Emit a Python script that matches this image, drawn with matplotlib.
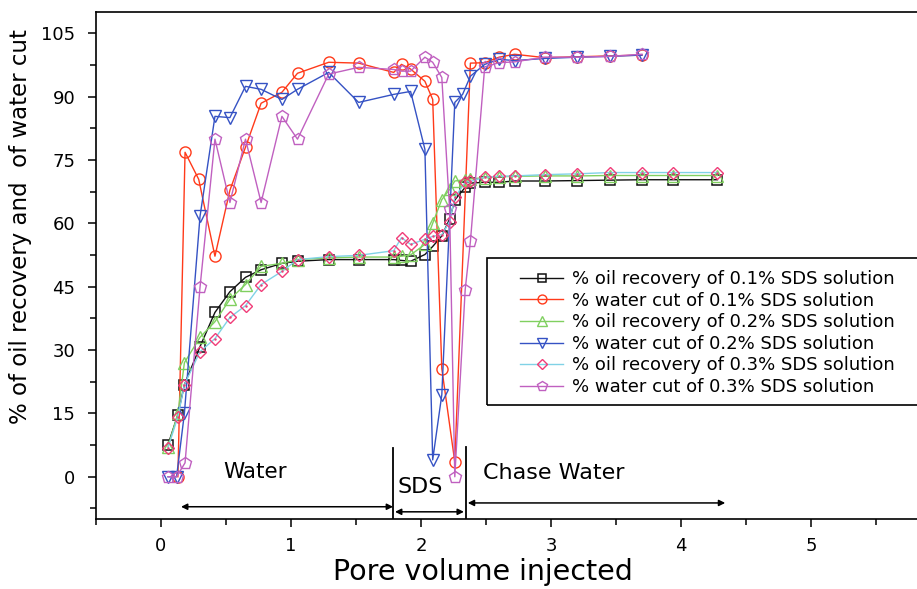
import matplotlib
matplotlib.use("Agg")
import matplotlib.pyplot as plt
from matplotlib.patches import Rectangle
from matplotlib.ticker import MultipleLocator

# ---------------- data ----------------
x_oil = [0.054, 0.13, 0.18, 0.30, 0.415, 0.53, 0.65, 0.77, 0.93, 1.05, 1.29, 1.52,
         1.79, 1.85, 1.92, 2.03, 2.09, 2.16, 2.22, 2.26, 2.34, 2.38, 2.49, 2.60,
         2.72, 2.95, 3.20, 3.45, 3.70, 3.94, 4.28]
oil_01 = [7.6, 14.7, 21.8, 30.8, 38.9, 43.8, 47.2, 49.0, 50.5, 51.0, 51.4, 51.4,
          51.4, 51.2, 51.0, 52.6, 54.5, 57.0, 61.0, 65.5, 68.5, 69.5, 69.7, 69.7,
          70.0, 70.0, 70.1, 70.2, 70.3, 70.3, 70.3]
oil_02 = [7.1, 15.0, 27.0, 33.0, 36.7, 42.0, 45.5, 49.8, 50.5, 51.4, 51.8, 52.0,
          52.0, 52.2, 52.5, 55.0, 60.0, 65.6, 68.0, 70.0, 70.3, 70.5, 70.8, 71.0,
          71.1, 71.2, 71.2, 71.3, 71.3, 71.3, 71.3]
oil_03 = [6.9, 14.2, 21.8, 29.6, 32.7, 37.7, 40.5, 45.5, 48.6, 51.4, 52.1, 52.4,
          53.5, 56.6, 55.0, 56.2, 56.9, 57.3, 60.4, 66.1, 69.7, 69.9, 70.9, 71.1,
          71.2, 71.5, 71.7, 72.0, 72.0, 72.0, 72.0]

x_wc01 = [0.13, 0.185, 0.29, 0.415, 0.53, 0.65, 0.77, 0.93, 1.05, 1.29, 1.52, 1.79,
          1.85, 1.92, 2.03, 2.09, 2.16, 2.26, 2.38, 2.49, 2.60, 2.72, 2.95, 3.20,
          3.45, 3.70]
wc_01 = [0.0, 76.8, 70.4, 52.2, 67.8, 78.0, 88.4, 91.0, 95.5, 98.1, 97.9, 95.7,
         97.6, 96.5, 93.6, 89.3, 25.6, 3.5, 97.9, 98.0, 99.3, 100.0, 99.2, 99.4,
         99.6, 99.8]

x_wc02 = [0.054, 0.12, 0.18, 0.30, 0.415, 0.53, 0.65, 0.77, 0.93, 1.05, 1.29, 1.52,
          1.79, 1.92, 2.03, 2.09, 2.16, 2.26, 2.32, 2.38, 2.49, 2.60, 2.72, 2.95,
          3.20, 3.45, 3.70]
wc_02 = [0.0, 0.0, 15.0, 61.6, 85.3, 85.0, 92.4, 91.7, 89.3, 91.7, 95.7, 88.6,
         90.5, 91.2, 77.5, 4.0, 19.4, 88.6, 90.5, 94.8, 97.6, 98.8, 98.5, 99.0,
         99.3, 99.5, 99.8]

x_wc03 = [0.054, 0.12, 0.185, 0.30, 0.415, 0.53, 0.65, 0.77, 0.93, 1.05, 1.29, 1.52,
          1.79, 1.85, 1.92, 2.03, 2.09, 2.16, 2.22, 2.26, 2.34, 2.38, 2.49, 2.60,
          2.72, 2.95, 3.20, 3.45, 3.70]
wc_03 = [0.0, 0.0, 3.3, 44.8, 79.9, 64.9, 79.9, 64.9, 85.3, 79.9, 95.3, 96.9,
         96.4, 96.0, 96.0, 99.3, 98.1, 94.5, 63.3, 0.0, 44.3, 55.7, 97.0, 98.0,
         98.2, 99.3, 99.3, 99.5, 100.0]

labels = ["% oil recovery of 0.1% SDS solution",
          "% water cut of 0.1% SDS solution",
          "% oil recovery of 0.2% SDS solution",
          "% water cut of 0.2% SDS solution",
          "% oil recovery of 0.3% SDS solution",
          "% water cut of 0.3% SDS solution"]

x_ticks = [0, 1, 2, 3, 4, 5]
y_ticks = [0, 15, 30, 45, 60, 75, 90, 105]

# ---------------- figure ----------------
plt.rcParams['font.family'] = ['DejaVu Sans']
fig = plt.figure(figsize=(9.17, 5.89), dpi=100)
ax = fig.add_axes([96/917, 70/589, 845/917, 507/589])

C_BLK = '#111111'
C_RED = '#ff3a1a'
C_GRN = '#80d060'
C_BLU = '#3552c4'
C_PNK = '#f03c78'
C_CYN = '#80d2e6'
C_PUR = '#c060c0'

lw = 1.0
h1, = ax.plot(x_oil, oil_01, '-', color=C_BLK, lw=lw, marker='s', ms=7,
              mfc='none', mec=C_BLK, mew=1.1, label=labels[0], zorder=3)
h2, = ax.plot(x_wc01, wc_01, '-', color=C_RED, lw=lw, marker='o', ms=8,
              mfc='none', mec=C_RED, mew=1.0, label=labels[1], zorder=3)
h3, = ax.plot(x_oil, oil_02, '-', color=C_GRN, lw=lw, marker='^', ms=8.5,
              mfc='none', mec=C_GRN, mew=1.0, label=labels[2], zorder=3)
h4, = ax.plot(x_wc02, wc_02, '-', color=C_BLU, lw=lw, marker='v', ms=8.5,
              mfc='none', mec=C_BLU, mew=1.0, label=labels[3], zorder=3)
h5, = ax.plot(x_oil, oil_03, '-', color=C_CYN, lw=lw, marker='D', ms=6.5,
              mfc='none', mec=C_PNK, mew=1.0, label=labels[4], zorder=3)
ax.plot(x_oil, oil_03, linestyle='none', marker='.', ms=1.5, color=C_PNK, zorder=3)
h6, = ax.plot(x_wc03, wc_03, '-', color=C_PUR, lw=lw, marker='p', ms=9,
              mfc='none', mec=C_PUR, mew=1.0, label=labels[5], zorder=4)

ax.set_xlim(-0.5, 6.0)
ax.set_ylim(-10, 110)
ax.set_xticks(x_ticks)
ax.set_yticks(y_ticks)
ax.xaxis.set_minor_locator(MultipleLocator(0.5))
ax.yaxis.set_minor_locator(MultipleLocator(7.5))
ax.tick_params(which='major', direction='out', length=6, width=1.1,
               labelsize=13, pad=7)
ax.tick_params(which='minor', direction='out', length=4, width=1.1)
ax.tick_params(axis='y', which='major', pad=9)
for s in ['left', 'bottom', 'top', 'right']:
    ax.spines[s].set_linewidth(1.2)

ax.set_xlabel("Pore volume injected", fontsize=20.5)
ax.xaxis.set_label_coords((483-96)/845, (519-558)/507)
ax.set_ylabel("% of oil recovery and  of water cut", fontsize=16.5)
ax.yaxis.set_label_coords((32-96)/845, (519-227)/507)

# ---------------- annotations ----------------
ax.plot([1.785, 1.785], [6.9, -9.7], color='black', lw=1.3, zorder=2)
ax.plot([2.346, 2.346], [7.1, -9.8], color='black', lw=1.3, zorder=2)
arrow_kw = dict(arrowstyle='<|-|>', color='black', lw=1.1, mutation_scale=9,
                shrinkA=0, shrinkB=0)
ax.annotate('', xy=(0.154, -7.1), xytext=(1.785, -7.1), arrowprops=arrow_kw)
ax.annotate('', xy=(1.80, -8.3), xytext=(2.33, -8.3), arrowprops=arrow_kw)
ax.annotate('', xy=(2.36, -6.2), xytext=(4.34, -6.2), arrowprops=arrow_kw)
ax.text(0.72, 1.2, "Water", fontsize=15.5, ha='center', va='center')
ax.text(1.99, -2.4, "SDS", fontsize=16, ha='center', va='center')
ax.text(3.02, 0.9, "Chase Water", fontsize=16, ha='center', va='center')

# ---------------- legend ----------------
fig.patches.append(Rectangle((487/917, (589-405)/589), (940-487)/917, (405-258)/589,
                             transform=fig.transFigure, facecolor='none',
                             edgecolor='black', lw=1.2, zorder=5))
fig.legend(handles=[h1, h2, h3, h4, h5, h6], loc='upper left',
           bbox_to_anchor=(520/917, (589-270)/589), frameon=False, borderpad=0,
           borderaxespad=0, handlelength=2.4, handletextpad=0.5,
           labelspacing=0.2, fontsize=13, markerscale=0.8)

fig.savefig("out.png", dpi=100)
